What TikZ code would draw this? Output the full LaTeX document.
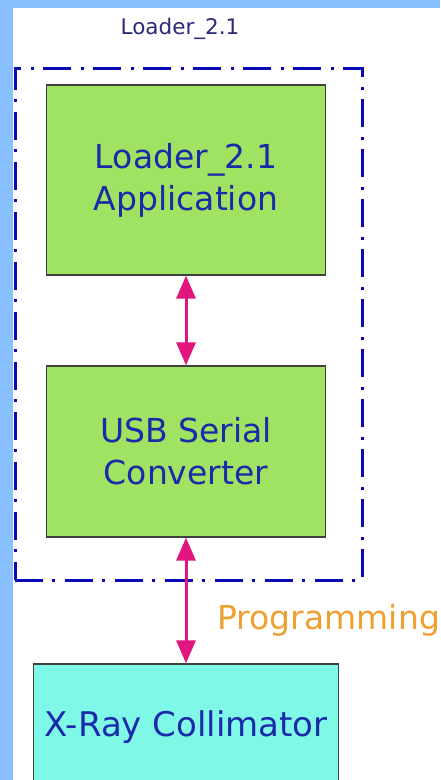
\documentclass[tikz,border=0pt]{standalone}
\usepackage{fontspec}
\setmainfont{DejaVu Sans}
\usepackage{xcolor}
\usepackage{tikz}
\usetikzlibrary{arrows.meta}

\definecolor{skyblue}{HTML}{88C0FF}
\definecolor{boxgreen}{HTML}{A0E262}
\definecolor{boxcyan}{HTML}{80F8E8}
\definecolor{textblue}{HTML}{1A2AA8}
\definecolor{titleblue}{HTML}{2A2A78}
\definecolor{frameblue}{HTML}{0A0AB4}
\definecolor{linkpink}{HTML}{E2157F}
\definecolor{progorange}{HTML}{F0A030}

\tikzset{
  block/.style={draw=black!75, line width=1.2pt, text=textblue, align=center,
    inner sep=0pt, font=\fontsize{33}{42}\selectfont},
  link/.style={draw=linkpink, line width=3pt, {Triangle[width=19pt,length=23pt]}-{Triangle[width=19pt,length=23pt]}}
}

\begin{document}
\begin{tikzpicture}[x=1pt,y=-1pt]
          \useasboundingbox (0,0) rectangle (440,780);
          \clip (0,0) rectangle (440,780);
          \fill[skyblue] (0,0) rectangle (440,780);
          \fill[white] (13,8) rectangle (440,780);
          % outer frame
          \node (title) [text=titleblue, font=\fontsize{21.5}{24}\selectfont] at (180,29) {Loader\_2.1};
          \node (frame) [draw=frameblue, line width=3pt, dash pattern=on 28pt off 9pt on 3pt off 10pt,
            minimum width=347pt, minimum height=512pt, inner sep=0pt] at (188.5,324) {};
          % blocks
          \node (app) [block, fill=boxgreen, minimum width=279pt, minimum height=190pt] at (186,180) {Loader\_2.1\\Application};
          \node (usb) [block, fill=boxgreen, minimum width=279pt, minimum height=171pt] at (186,451.5) {USB Serial\\Converter};
          \node (xray) [block, fill=boxcyan, minimum width=305pt, minimum height=126pt, font=\fontsize{34}{42}\selectfont] at (186,727) {X-Ray Collimator};
          \node (prog) [anchor=west, text=progorange, font=\fontsize{33}{38}\selectfont] at (214,620) {Programming};
          % links
          \draw[link] (app.south) -- (usb.north);
          \draw[link] (usb.south) -- (xray.north);
        \end{tikzpicture}
\end{document}
